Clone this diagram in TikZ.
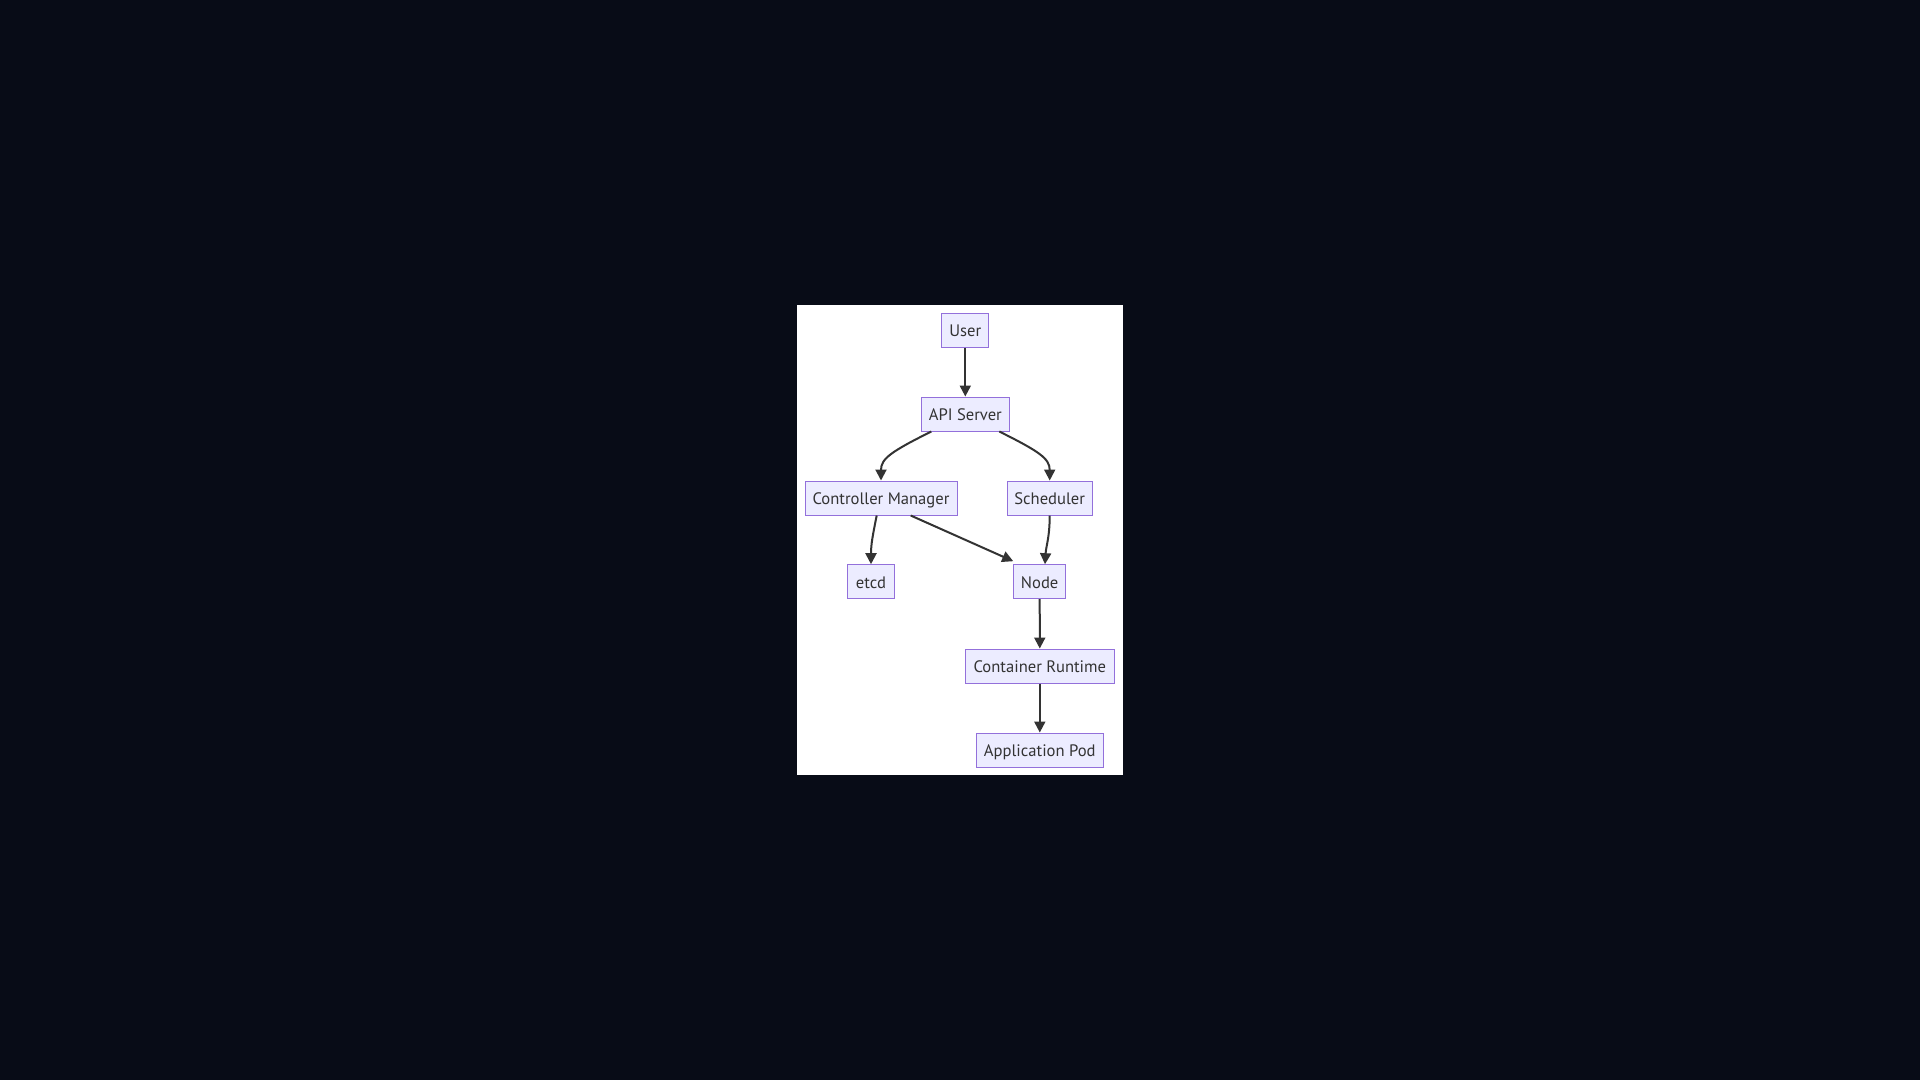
\documentclass[tikz,border=0pt]{standalone}
\usepackage{fontspec}
\setmainfont{PT Sans}
\usetikzlibrary{arrows.meta}
\definecolor{bgdark}{RGB}{8,12,23}
\definecolor{nodefill}{HTML}{ECECFF}
\definecolor{nodeborder}{HTML}{9370DB}
\definecolor{edgecol}{HTML}{333333}
\tikzset{
  box/.style={draw=nodeborder, fill=nodefill, line width=1pt, rectangle,
    minimum height=34pt, inner xsep=2pt, inner ysep=0pt, text height=13.5pt, text depth=0pt,
    font=\fontsize{16.6}{20}\selectfont, text=edgecol},
  edge/.style={draw=edgecol, line width=2pt, -{Triangle[length=11pt,width=11pt]}}
}
\begin{document}
\begin{tikzpicture}[x=1pt,y=-1pt]
\fill[bgdark] (0,0) rectangle (1920,1080);
\useasboundingbox (0,0) rectangle (1920,1080);
\fill[white] (797,305) rectangle (1123,775);
\node[box, minimum width=47pt] (user) at (965.3,330) {User};
\node[box, minimum width=88pt] (api) at (965.3,414) {API Server};
\node[box, minimum width=152pt] (cm) at (881,498) {Controller Manager};
\node[box, minimum width=85pt] (sched) at (1049.7,498) {Scheduler};
\node[box, minimum width=47pt] (etcd) at (871,581.7) {etcd};
\node[box, minimum width=52pt] (node) at (1039.7,581.7) {Node};
\node[box, minimum width=149pt] (cr) at (1039.8,666) {Container Runtime};
\node[box, minimum width=127pt] (pod) at (1039.8,750) {Application Pod};
\draw[edge] (user) -- (api);
\draw[edge] ([xshift=-34pt]api.south) .. controls +(-40,20) and +(0,-22) .. ([xshift=-84.3pt]api.south |- cm.north);
\draw[edge] ([xshift=34pt]api.south) .. controls +(40,20) and +(0,-22) .. (sched.north);
\draw[edge] ([xshift=-4.3pt]cm.south) .. controls +(-4,20) and +(0,-20) .. (etcd.north);
\draw[edge] ([xshift=29.7pt]cm.south) -- ([yshift=3pt]node.north west);
\draw[edge] (sched.south) .. controls +(0,22) and +(1,-18) .. ([xshift=5.3pt]node.north);
\draw[edge] (node) -- (cr);
\draw[edge] (cr) -- (pod);
\end{tikzpicture}
\end{document}
